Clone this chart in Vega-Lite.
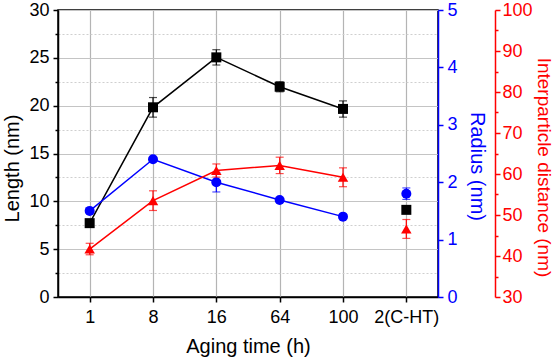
{
  "$schema": "https://vega.github.io/schema/vega-lite/v6.json",
  "width": 380,
  "height": 287,
  "autosize": "none",
  "padding": {"left": 58, "top": 10, "right": 116, "bottom": 62},
  "config": {
    "font": "Liberation Sans",
    "view": {"stroke": "black", "strokeWidth": 1.5},
    "axis": {"labelFontSize": 18, "titleFontSize": 20, "titleFontWeight": "normal", "labelFont": "Liberation Sans", "titleFont": "Liberation Sans", "domainWidth": 1.5, "tickWidth": 1.5, "tickSize": 5}
  },
  "datasets": {
    "main": [
      {"t": "1", "len": 7.72, "lenLo": 7.72, "lenHi": 7.72, "rad": 1.50, "radLo": 1.50, "radHi": 1.50, "dist": 41.7, "distLo": 40.3, "distHi": 43.1},
      {"t": "8", "len": 19.83, "lenLo": 18.8, "lenHi": 20.85, "rad": 2.40, "radLo": 2.40, "radHi": 2.40, "dist": 53.5, "distLo": 51.1, "distHi": 55.9},
      {"t": "16", "len": 25.05, "lenLo": 24.25, "lenHi": 25.85, "rad": 2.0, "radLo": 1.83, "radHi": 2.17, "dist": 60.85, "distLo": 59.25, "distHi": 62.45},
      {"t": "64", "len": 21.98, "lenLo": 21.45, "lenHi": 22.5, "rad": 1.69, "radLo": 1.69, "radHi": 1.69, "dist": 62.1, "distLo": 60.1, "distHi": 64.1},
      {"t": "100", "len": 19.66, "lenLo": 18.8, "lenHi": 20.5, "rad": 1.40, "radLo": 1.40, "radHi": 1.40, "dist": 59.2, "distLo": 56.9, "distHi": 61.5},
      {"t": "2(C-HT)", "len": 9.11, "lenLo": 9.11, "lenHi": 9.11, "rad": 1.80, "radLo": 1.70, "radHi": 1.90, "dist": 46.6, "distLo": 44.3, "distHi": 48.9}
    ]
  },
  "data": {"name": "main"},
  "encoding": {
    "x": {
      "field": "t", "type": "ordinal", "sort": null,
      "scale": {"type": "point", "padding": 0.5},
      "axis": {"title": "Aging time (h)", "labelAngle": 0, "grid": true, "gridColor": "#b4b4b4", "gridWidth": 1.2, "domainColor": "black", "tickColor": "black", "labelColor": "black", "titleColor": "black", "labelPadding": 6, "titlePadding": 10}
    }
  },
  "layer": [
    {
      "encoding": {
        "y": {"type": "quantitative", "scale": {"domain": [0, 30]}, "axis": {
          "title": "Length (nm)",
          "titleY": 158,
          "values": [0, 2.5, 5, 7.5, 10, 12.5, 15, 17.5, 20, 22.5, 25, 27.5, 30],
          "format": "d",
          "labelExpr": "datum.value % 5 === 0 ? datum.label : ''",
          "tickSize": {"condition": {"test": "datum.value % 5 !== 0", "value": 3}, "value": 5},
          "grid": true,
          "gridColor": {"condition": {"test": "datum.value % 5 !== 0", "value": "#cfcfcf"}, "value": "#c4c4c4"},
          "gridDash": {"condition": {"test": "datum.value % 5 !== 0", "value": [2, 2]}, "value": []},
          "gridWidth": {"condition": {"test": "datum.value % 5 !== 0", "value": 1}, "value": 1.2},
          "domainColor": "black", "tickColor": "black", "labelColor": "black", "titleColor": "black", "labelPadding": 4, "titlePadding": 6}}
      },
      "layer": [
        {
          "transform": [{"filter": "datum.t != '2(C-HT)'"}],
          "mark": {"type": "line", "color": "black", "strokeWidth": 1.5},
          "encoding": {"y": {"field": "len"}}
        },
        {
          "mark": {"type": "rule", "color": "black", "strokeWidth": 1.2},
          "encoding": {"y": {"field": "lenLo"}, "y2": {"field": "lenHi"}}
        },
        {
          "mark": {"type": "tick", "color": "black", "size": 8, "thickness": 1.2, "orient": "horizontal"},
          "encoding": {"y": {"field": "lenLo"}}
        },
        {
          "mark": {"type": "tick", "color": "black", "size": 8, "thickness": 1.2, "orient": "horizontal"},
          "encoding": {"y": {"field": "lenHi"}}
        },
        {
          "mark": {"type": "point", "shape": "square", "filled": true, "color": "black", "size": 100, "opacity": 1},
          "encoding": {"y": {"field": "len"}}
        }
      ]
    },
    {
      "encoding": {
        "y": {"type": "quantitative", "scale": {"domain": [0, 5]}, "axis": {
          "orient": "right", "title": "Radius (nm)",
          "titleY": 156,
          "values": [0, 0.5, 1, 1.5, 2, 2.5, 3, 3.5, 4, 4.5, 5],
          "format": "d",
          "labelExpr": "datum.value % 1 === 0 ? datum.label : ''",
          "tickSize": {"condition": {"test": "datum.value % 1 !== 0", "value": 3}, "value": 5},
          "grid": false, "domainColor": "blue", "tickColor": "blue", "labelColor": "blue", "titleColor": "blue", "labelPadding": 4, "titlePadding": 9}}
      },
      "layer": [
        {
          "transform": [{"filter": "datum.t != '2(C-HT)'"}],
          "mark": {"type": "line", "color": "blue", "strokeWidth": 1.5},
          "encoding": {"y": {"field": "rad"}}
        },
        {
          "mark": {"type": "rule", "color": "blue", "strokeWidth": 1.2},
          "encoding": {"y": {"field": "radLo"}, "y2": {"field": "radHi"}}
        },
        {
          "mark": {"type": "tick", "color": "blue", "size": 8, "thickness": 1.2, "orient": "horizontal"},
          "encoding": {"y": {"field": "radLo"}}
        },
        {
          "mark": {"type": "tick", "color": "blue", "size": 8, "thickness": 1.2, "orient": "horizontal"},
          "encoding": {"y": {"field": "radHi"}}
        },
        {
          "mark": {"type": "point", "shape": "circle", "filled": true, "color": "blue", "size": 100, "opacity": 1},
          "encoding": {"y": {"field": "rad"}}
        }
      ]
    },
    {
      "encoding": {
        "y": {"type": "quantitative", "scale": {"domain": [30, 100]}, "axis": {
          "orient": "right", "offset": 57, "title": "Interparticle distance (nm)",
          "titleY": 157,
          "values": [30, 35, 40, 45, 50, 55, 60, 65, 70, 75, 80, 85, 90, 95, 100],
          "format": "d",
          "labelExpr": "datum.value % 10 === 0 ? datum.label : ''",
          "tickSize": {"condition": {"test": "datum.value % 10 !== 0", "value": 3}, "value": 5},
          "titleFontSize": 19,
          "grid": false, "domainColor": "red", "tickColor": "red", "labelColor": "red", "titleColor": "red", "labelPadding": 2, "titlePadding": 1}}
      },
      "layer": [
        {
          "transform": [{"filter": "datum.t != '2(C-HT)'"}],
          "mark": {"type": "line", "color": "red", "strokeWidth": 1.5},
          "encoding": {"y": {"field": "dist"}}
        },
        {
          "mark": {"type": "rule", "color": "red", "strokeWidth": 1.2},
          "encoding": {"y": {"field": "distLo"}, "y2": {"field": "distHi"}}
        },
        {
          "mark": {"type": "tick", "color": "red", "size": 8, "thickness": 1.2, "orient": "horizontal"},
          "encoding": {"y": {"field": "distLo"}}
        },
        {
          "mark": {"type": "tick", "color": "red", "size": 8, "thickness": 1.2, "orient": "horizontal"},
          "encoding": {"y": {"field": "distHi"}}
        },
        {
          "mark": {"type": "point", "shape": "triangle-up", "filled": true, "color": "red", "size": 110, "opacity": 1},
          "encoding": {"y": {"field": "dist"}}
        }
      ]
    }
  ],
  "resolve": {"scale": {"y": "independent"}}
}
